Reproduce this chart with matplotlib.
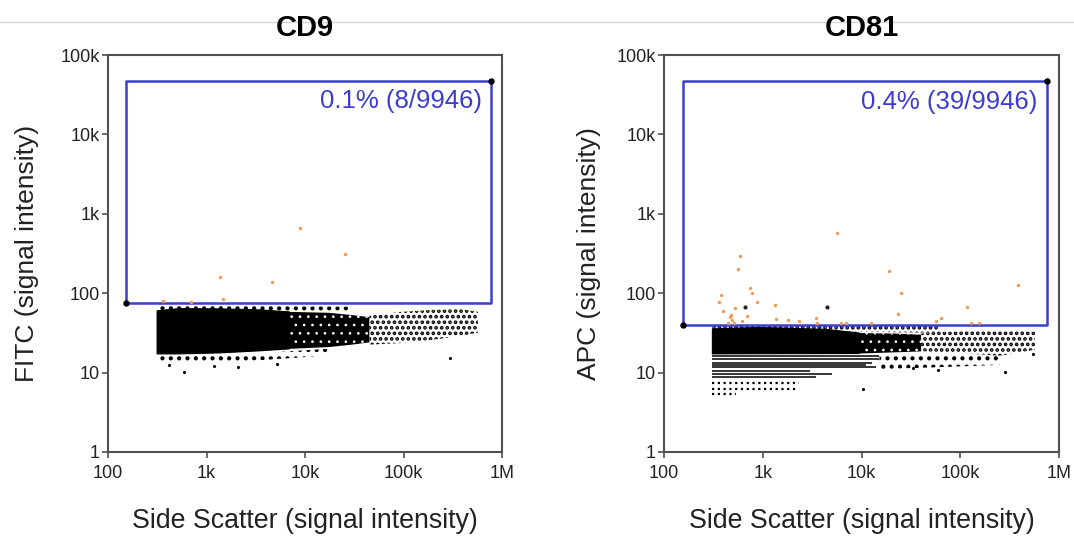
import matplotlib
matplotlib.use('Agg')
import matplotlib.pyplot as plt
from matplotlib.lines import Line2D
from matplotlib.ticker import FixedLocator, FixedFormatter, NullLocator

plt.rcParams['font.family'] = ['Liberation Sans', 'DejaVu Sans']
plt.rcParams['hatch.linewidth'] = 1.8

# ---------------- data ----------------
titles = ['CD9', 'CD81']
y_labels = ['FITC (signal intensity)', 'APC (signal intensity)']
x_label = 'Side Scatter (signal intensity)'
x_ticks = [1e2, 1e3, 1e4, 1e5, 1e6]
x_tick_labels = ['100', '1k', '10k', '100k', '1M']
y_ticks = [1, 10, 100, 1e3, 1e4, 1e5]
y_tick_labels = ['1', '10', '100', '1k', '10k', '100k']
gate_text = ['0.1% (8/9946)', '0.4% (39/9946)']

cd9_gate_x = [151, 773000]
cd9_gate_y = [76, 47000]
cd81_gate_x = [155, 753000]
cd81_gate_y = [40, 47000]

# CD9 event cloud outlines (dense core, speckled transition, sparse tail, fringes)
cd9_core_x = [315, 528, 1350, 3440, 6950, 6950, 3440, 1350, 528, 315]
cd9_core_y = [60, 64, 63.5, 61.7, 58.2, 19.9, 18.8, 17.7, 17.2, 17.2]
cd9_trans_x = [6950, 17700, 30000, 45000, 45000, 30000, 17700, 6950]
cd9_trans_y = [58.2, 56.6, 53, 50, 24, 22.5, 21, 19.9]
cd9_tail_x = [45000, 91600, 199000, 373000, 570000, 570000, 373000, 199000, 91600, 45000]
cd9_tail_y = [52, 58, 61.7, 63.5, 58.2, 31.7, 29, 25.9, 23.5, 22.5]
cd9_low_x = [315, 2720, 17700, 17700, 2720, 315]
cd9_low_y = [17.2, 17.2, 20, 16.5, 14, 13.5]
cd9_up_x = [330, 28400, 28400, 330]
cd9_up_y = [70, 68, 58, 58]
cd9_iso_x = [296000, 594, 1200, 5200, 420, 2100]
cd9_iso_y = [15.2, 10.3, 12.0, 12.8, 12.5, 11.6]

cd9_pos_x = [8850, 25700, 1387, 4640, 1476, 361, 690]
cd9_pos_y = [659, 310, 161, 139, 84, 80.7, 78]

# CD81 event cloud outlines
cd81_core_x = [309, 921, 4420, 9550, 9550, 309]
cd81_core_y = [35.5, 37, 35, 31.5, 17.4, 17.2]
cd81_trans_x = [9550, 22000, 40000, 40000, 22000, 9550]
cd81_trans_y = [31.5, 31, 30, 18.5, 18, 17.4]
cd81_tail_x = [40000, 80000, 252000, 570000, 570000, 252000, 80000, 40000]
cd81_tail_y = [31, 33, 34.6, 32.7, 19.4, 16.3, 18, 18.5]
cd81_up_x = [309, 61900, 61900, 309]
cd81_up_y = [39, 39, 31.7, 34.6]
cd81_low_x = [15200, 252000, 252000, 15200]
cd81_low_y = [17.2, 17.2, 12.5, 11.0]
cd81_band_y = [16.3, 14.9, 13.3, 12.4, 11.6, 10.6, 9.7, 8.9]
cd81_band_end = [15200, 15200, 12900, 11000, 14000, 3000, 5000, 3500]
cd81_dot_y = [7.5, 6.25, 5.3]
cd81_dot_end = [2350, 2240, 538]
cd81_band_start = 309
cd81_iso_x = [548000, 283000, 10300, 33000, 60000]
cd81_iso_y = [17.1, 10.3, 6.2, 11.5, 10.8]

cd81_pos_x = [5620, 589, 566, 19050, 380000, 748, 25200, 785, 375, 363, 881, 1324, 520,
              116700, 393, 474, 463, 23300, 698, 3490, 64000, 56600, 1374, 1791, 2333, 617,
              485, 441, 512, 3524, 6210, 6930, 12600, 128800, 155000]
cd81_pos_y = [575, 298, 201, 191, 127, 116, 100, 100, 94.6, 77, 77, 70, 66, 66.8, 60.5,
              53.9, 50.8, 54.4, 51.9, 49.4, 49.4, 44.9, 47.1, 45.8, 44.9, 45.3, 46.2,
              42.4, 42.4, 42.4, 42.4, 42.4, 42.4, 42.4, 42.4]
cd81_dark_x = [662, 4450]
cd81_dark_y = [67, 67.7]

# ---------------- styling ----------------
GATE = '#3c3cd2'
ORANGE = '#f09a58'
SPINE = '#505050'

fig = plt.figure(figsize=(10.74, 5.36), dpi=100)
fig.add_artist(Line2D([0, 1], [1 - 22 / 536, 1 - 22 / 536], color='#d6d6d6', lw=1.0,
                      transform=fig.transFigure, zorder=-5))

ax1 = fig.add_axes([108 / 1074, 1 - 452 / 536, 394 / 1074, 397 / 536])
ax2 = fig.add_axes([664 / 1074, 1 - 452 / 536, 395 / 1074, 397 / 536])


def style(ax, title, ylabel, ylab_x):
    ax.set_xscale('log')
    ax.set_yscale('log')
    ax.set_xlim(1e2, 1e6)
    ax.set_ylim(1, 1e5)
    ax.xaxis.set_major_locator(FixedLocator(x_ticks))
    ax.xaxis.set_major_formatter(FixedFormatter(x_tick_labels))
    ax.yaxis.set_major_locator(FixedLocator(y_ticks))
    ax.yaxis.set_major_formatter(FixedFormatter(y_tick_labels))
    ax.xaxis.set_minor_locator(NullLocator())
    ax.yaxis.set_minor_locator(NullLocator())
    for s in ax.spines.values():
        s.set_color(SPINE)
        s.set_linewidth(1.5)
    ax.tick_params(axis='both', direction='out', length=4.5, width=1.2, color=SPINE,
                   labelsize=13, labelcolor='#222222')
    ax.tick_params(axis='x', pad=5)
    ax.tick_params(axis='y', pad=1.5)
    ax.set_title(title, fontsize=21, fontweight='bold', pad=14)
    ax.set_xlabel(x_label, fontsize=19.3, color='#222222')
    ax.xaxis.set_label_coords(0.5, -0.14)
    ax.set_ylabel(ylabel, fontsize=19, color='#222222')
    ax.yaxis.set_label_coords(ylab_x, 0.5)


def set_hlw(patches, lw):
    for p in patches:
        if hasattr(p, 'set_hatch_linewidth'):
            p.set_hatch_linewidth(lw)


def solid(ax, xs, ys):
    ax.fill(xs, ys, facecolor='black', edgecolor='black', linewidth=0.8, zorder=2)


def dotted(ax, xs, ys, hatch):
    ps = ax.fill(xs, ys, facecolor='none', edgecolor='black', hatch=hatch, linewidth=0,
                 zorder=2)
    set_hlw(ps, 1.8)


def speckled(ax, xs, ys, hatch):
    ps = ax.fill(xs, ys, facecolor='black', edgecolor='white', hatch=hatch, linewidth=0,
                 zorder=2)
    set_hlw(ps, 0.7)


def gate(ax, gx, gy, text, tx, ty):
    ax.plot([gx[0], gx[1], gx[1], gx[0], gx[0]], [gy[0], gy[0], gy[1], gy[1], gy[0]],
            color=GATE, lw=1.8, zorder=3)
    ax.plot([gx[0], gx[1]], [gy[0], gy[1]], 'o', color='black', ms=3.6, zorder=5,
            linestyle='none')
    ax.text(tx, ty, text, transform=ax.transAxes, ha='right', va='top', color=GATE,
            fontsize=18.5)


# ---- CD9 ----
style(ax1, titles[0], y_labels[0], -0.175)
dotted(ax1, cd9_up_x, cd9_up_y, '..')
dotted(ax1, cd9_low_x, cd9_low_y, '..')
dotted(ax1, cd9_tail_x, cd9_tail_y, '...')
speckled(ax1, cd9_trans_x, cd9_trans_y, '..')
solid(ax1, cd9_core_x, cd9_core_y)
ax1.scatter(cd9_iso_x, cd9_iso_y, s=5, color='black', zorder=2, linewidths=0)
gate(ax1, cd9_gate_x, cd9_gate_y, gate_text[0], 0.949, 0.914)
ax1.scatter(cd9_pos_x, cd9_pos_y, s=6, color=ORANGE, zorder=6, linewidths=0)

# ---- CD81 ----
style(ax2, titles[1], y_labels[1], -0.16)
dotted(ax2, cd81_up_x, cd81_up_y, '...')
dotted(ax2, cd81_low_x, cd81_low_y, '..')
dotted(ax2, cd81_tail_x, cd81_tail_y, '...')
speckled(ax2, cd81_trans_x, cd81_trans_y, '..')
solid(ax2, cd81_core_x, cd81_core_y)
ax2.hlines(cd81_band_y, cd81_band_start, cd81_band_end, colors='black', lw=1.1, zorder=2)
ax2.hlines(cd81_dot_y, cd81_band_start, cd81_dot_end, colors='black', lw=1.6,
           linestyles=[(0, (1.0, 1.6))], zorder=2)
ax2.scatter(cd81_iso_x, cd81_iso_y, s=5, color='black', zorder=2, linewidths=0)
gate(ax2, cd81_gate_x, cd81_gate_y, gate_text[1], 0.944, 0.912)
ax2.scatter(cd81_pos_x, cd81_pos_y, s=6, color=ORANGE, zorder=6, linewidths=0)
ax2.scatter(cd81_dark_x, cd81_dark_y, s=9, color='#222222', zorder=6, linewidths=0)

fig.savefig('out.png', dpi=100)
